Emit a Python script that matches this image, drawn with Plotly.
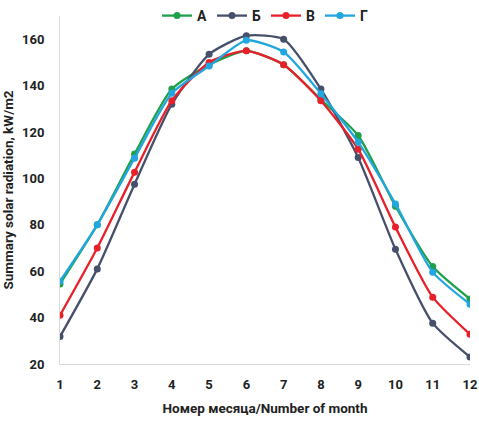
import plotly.graph_objects as go

months = list(range(1, 13))
names = ["А", "Б", "В", "Г"]
series_a = [54.5, 80, 110.5, 138.5, 149, 155, 149, 134, 118.5, 88, 62, 48]
series_b = [31.8, 61, 97.5, 132, 153.5, 161.5, 160, 138.5, 109, 69.5, 37.6, 23]
series_v = [41, 70, 102.7, 133.5, 150, 155, 149, 133.5, 112.6, 79, 48.8, 32.8]
series_g = [55.7, 80, 108.7, 136.7, 148.4, 159.5, 154.5, 136.5, 115.6, 89, 59.6, 45.8]
colors = ["#1fa04a", "#46506b", "#e8202a", "#22a6e0"]
y_ticks = [20, 40, 60, 80, 100, 120, 140, 160]

fig = go.Figure()
for name, vals, col in zip(names, [series_a, series_b, series_v, series_g], colors):
    fig.add_trace(go.Scatter(
        x=months, y=vals, name=name, mode="lines+markers",
        line=dict(color=col, width=2.3, shape="spline", smoothing=0.6),
        marker=dict(color=col, size=7),
    ))

tf = dict(family="Roboto, sans-serif", size=13, color="#222222", weight="bold")
fig.update_layout(
    width=479, height=421,
    margin=dict(l=60, r=9, t=16, b=57, autoexpand=False),
    plot_bgcolor="white", paper_bgcolor="white",
    font=dict(family="Roboto, sans-serif", size=13, color="#222222"),
    legend=dict(orientation="h", x=0.5, xanchor="center", y=1.0, yanchor="middle",
                font=dict(family="Roboto, sans-serif", size=14, color="#222222", weight="bold"),
                bgcolor="rgba(0,0,0,0)", itemwidth=30),
    showlegend=True,
)
fig.update_xaxes(
    range=[1, 12], tickvals=months, showgrid=False, zeroline=False,
    showline=True, linecolor="#d9d9d9", linewidth=1, ticks="",
    tickfont=tf, ticklabelstandoff=8,
    title=dict(text="Номер месяца/Number of month", font=dict(tf, size=13.5), standoff=12),
)
fig.update_yaxes(
    range=[20, 170], tickvals=y_ticks, showgrid=False, zeroline=False,
    showline=True, linecolor="#d9d9d9", linewidth=1, ticks="",
    tickfont=tf, ticklabelstandoff=12,
    title=dict(text="Summary solar radiation, kW/m2", font=dict(tf, size=13.5), standoff=5),
)
fig.write_html("out.html")
